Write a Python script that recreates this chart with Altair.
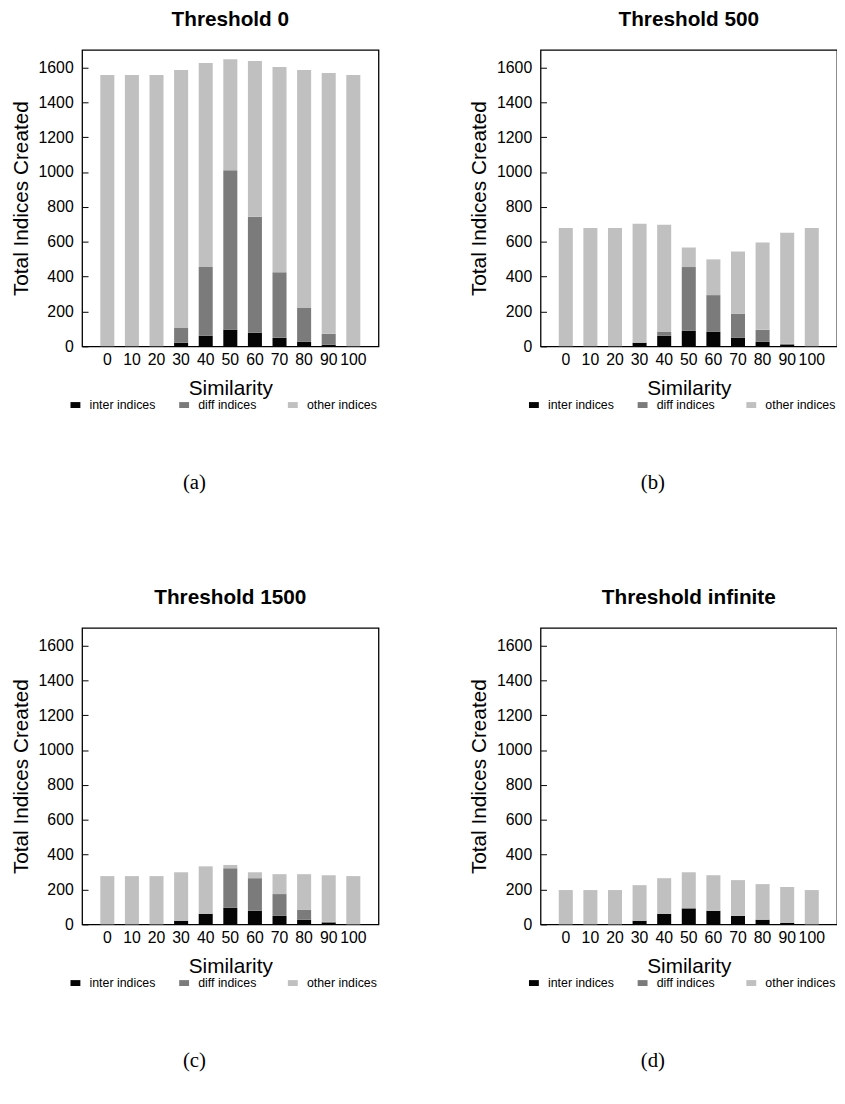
import altair as alt
import pandas as pd

SIM = [0, 10, 20, 30, 40, 50, 60, 70, 80, 90, 100]
SERIES = ["inter indices", "diff indices", "other indices"]
COLORS = ["#050505", "#7b7b7b", "#c0c0c0"]
YTICKS = [0, 200, 400, 600, 800, 1000, 1200, 1400, 1600]

INTER_A = [0, 0, 0, 21, 61, 96, 78, 49, 26, 9, 0]
DIFF_A = [0, 0, 0, 85, 394, 914, 665, 376, 194, 63, 0]
OTHER_A = [1556, 1556, 1556, 1479, 1170, 637, 893, 1177, 1365, 1496, 1556]

INTER_B = [0, 0, 0, 21, 61, 89, 83, 49, 26, 11, 0]
DIFF_B = [0, 0, 0, 0, 22, 366, 211, 139, 69, 4, 0]
OTHER_B = [679, 679, 679, 682, 615, 112, 205, 356, 500, 637, 679]

INTER_C = [0, 0, 0, 21, 61, 95, 78, 49, 27, 11, 0]
DIFF_C = [0, 0, 0, 0, 0, 227, 187, 125, 56, 4, 0]
OTHER_C = [277, 277, 277, 278, 272, 19, 34, 114, 205, 267, 277]

INTER_D = [0, 0, 0, 21, 61, 91, 78, 49, 27, 9, 0]
DIFF_D = [0, 0, 0, 0, 0, 3, 0, 0, 0, 0, 0]
OTHER_D = [197, 197, 197, 204, 204, 205, 204, 205, 204, 205, 197]

FONT = "Liberation Sans"
W = 300
H = 300


def panel(inter, diff, other, title, caption):
    rows = []
    for i, s in enumerate(SIM):
        for k, vals in enumerate([inter, diff, other]):
            rows.append({"sim": s, "series": SERIES[k], "order": k, "value": vals[i]})
    df = pd.DataFrame(rows)

    x = alt.X(
        "sim:O",
        sort=SIM,
        scale=alt.Scale(paddingInner=0.43, paddingOuter=0.74),
        axis=alt.Axis(
            title="Similarity", labelAngle=0, ticks=False, domain=False,
            labelPadding=5, labelFontSize=16, titleFontSize=21, titlePadding=11,
            labelOverlap=False, grid=False, titleFontWeight="normal",
            labelFont=FONT, titleFont=FONT, labelColor="#000", titleColor="#000",
        ),
    )
    yscale = alt.Scale(domain=[0, 1700], nice=False)

    bars = alt.Chart(df).mark_bar().encode(
        x=x,
        y=alt.Y(
            "value:Q", stack="zero", scale=yscale,
            axis=alt.Axis(
                title="Total Indices Created", values=YTICKS, ticks=False,
                domain=False, grid=False, labelPadding=9, titlePadding=7,
                labelFontSize=16, titleFontSize=21, format="d",
                titleFontWeight="normal", labelFont=FONT, titleFont=FONT,
                labelColor="#000", titleColor="#000",
            ),
        ),
        color=alt.Color(
            "series:N", sort=SERIES,
            scale=alt.Scale(domain=SERIES, range=COLORS),
            legend=alt.Legend(
                orient="none", legendX=-13, legendY=353, title=None,
                direction="horizontal",
                symbolType="M-1,-0.6H1V0.6H-1Z", symbolSize=100,
                symbolStrokeWidth=0, labelFontSize=12.5, labelFont=FONT,
                labelColor="#000",
                gridAlign="all", columnPadding=18, labelOffset=8,
            ),
        ),
        order=alt.Order("order:Q"),
    )

    ticks = alt.Chart(df).mark_bar(opacity=0).encode(
        x=x,
        y=alt.Y(
            "value:Q", scale=yscale,
            axis=alt.Axis(
                orient="right", offset=-W, values=YTICKS, labels=False,
                title=None, domain=False, ticks=True, tickSize=6,
                tickColor="#000", tickWidth=1, grid=False,
            ),
        ),
    )

    layer = (
        alt.layer(bars, ticks)
        .resolve_scale(y="shared")
        .resolve_axis(y="independent")
        .properties(
            width=W, height=H,
            title=alt.TitleParams(
                title, fontSize=21, fontWeight="bold", font=FONT,
                anchor="middle", offset=20, color="#000",
            ),
        )
    )
    return alt.vconcat(layer).properties(
        title=alt.TitleParams(
            caption, orient="bottom", fontSize=21, font="Liberation Serif",
            fontWeight="normal", anchor="middle", offset=61, color="#000",
        )
    ).resolve_scale(color="independent").resolve_legend(color="independent")


pa = panel(INTER_A, DIFF_A, OTHER_A, "Threshold 0", "(a)")
pb = panel(INTER_B, DIFF_B, OTHER_B, "Threshold 500", "(b)")
pc = panel(INTER_C, DIFF_C, OTHER_C, "Threshold 1500", "(c)")
pd_ = panel(INTER_D, DIFF_D, OTHER_D, "Threshold infinite", "(d)")

row1 = alt.hconcat(pa, pb, spacing=89).resolve_scale(color="independent").resolve_legend(color="independent")
row2 = alt.hconcat(pc, pd_, spacing=89).resolve_scale(color="independent").resolve_legend(color="independent")

chart = (
    alt.vconcat(row1, row2, spacing=94)
    .resolve_scale(color="independent")
    .resolve_legend(color="independent")
    .properties(padding={"left": 1, "top": -6, "right": -1, "bottom": 0}, background="white")
    .configure_view(stroke="#000", strokeWidth=1.3)
)

chart.save("out.html", embed_options={"renderer": "svg", "actions": False})
